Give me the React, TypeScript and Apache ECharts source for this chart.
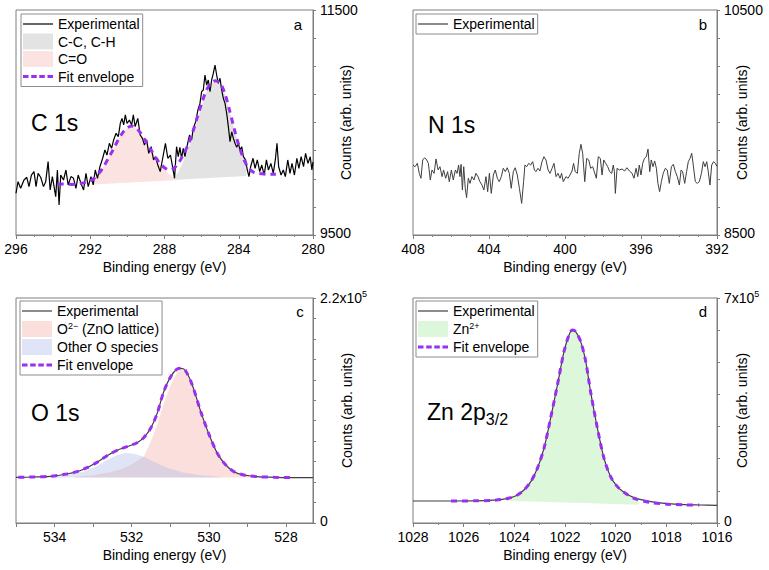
import React, { useEffect, useRef } from 'react';
import * as echarts from 'echarts';

const FONT = '"Liberation Sans", Arial, Helvetica, sans-serif';
const AXIS_GRAY = '#7f7f7f';
const ENVELOPE = '#9a2ef2';

type P = [number, number];

// ---------------- Panel a: C 1s ----------------
const aXRange: P = [280, 296];
const aYRange: P = [9500, 11500];
const aYLabels = ['9500', '11500'];
const aExperimental: P[] = [
  [296.0, 9871], [295.89, 9974], [295.75, 9915], [295.57, 9989], [295.42, 10013], [295.3, 9930],
  [295.17, 10033], [295.03, 10063], [294.92, 9930], [294.81, 10048], [294.67, 10013], [294.52, 9930],
  [294.4, 9974], [294.27, 10152], [294.16, 9900], [294.04, 10019], [293.95, 9930], [293.86, 9841],
  [293.77, 10078], [293.68, 9767], [293.59, 10033], [293.44, 9989], [293.31, 10078], [293.19, 9945],
  [293.04, 10019], [292.9, 10004], [292.77, 9915], [292.65, 10033], [292.5, 9959], [292.36, 9900],
  [292.23, 10048], [292.11, 9930], [291.96, 10019], [291.84, 9945], [291.73, 10078], [291.61, 10004],
  [291.48, 10107], [291.33, 10182], [291.21, 10256], [291.1, 10211], [290.97, 10315], [290.85, 10270],
  [290.74, 10345], [290.61, 10404], [290.49, 10374], [290.38, 10493], [290.29, 10537], [290.2, 10478],
  [290.11, 10567], [290.02, 10493], [289.89, 10522], [289.77, 10478], [289.68, 10567], [289.58, 10463],
  [289.44, 10537], [289.31, 10389], [289.19, 10359], [289.08, 10300], [288.96, 10345], [288.85, 10226],
  [288.72, 10285], [288.59, 10167], [288.49, 10196], [288.36, 10122], [288.23, 10063], [288.1, 10180],
  [287.95, 10315], [287.82, 10182], [287.68, 10211], [287.55, 10093], [287.46, 10004], [287.35, 10285],
  [287.26, 10196], [287.17, 10279], [287.08, 10182], [286.99, 10270], [286.9, 10196], [286.77, 10300],
  [286.65, 10389], [286.54, 10345], [286.45, 10448], [286.32, 10507], [286.2, 10611], [286.09, 10670],
  [286.0, 10774], [285.91, 10789], [285.82, 10922], [285.73, 10833], [285.64, 10878], [285.55, 10774],
  [285.46, 10878], [285.37, 10937], [285.28, 11011], [285.19, 10922], [285.1, 10848], [285.01, 10893],
  [284.92, 10789], [284.83, 10715], [284.74, 10670], [284.65, 10581], [284.56, 10463], [284.47, 10330],
  [284.38, 10418], [284.29, 10359], [284.2, 10315], [284.11, 10279], [284.02, 10315], [283.93, 10256],
  [283.84, 10285], [283.75, 10196], [283.63, 10167], [283.54, 10078], [283.45, 10019], [283.36, 10107],
  [283.23, 10182], [283.12, 10093], [283.0, 10167], [282.87, 10063], [282.76, 10122], [282.63, 10033],
  [282.51, 10167], [282.4, 10078], [282.27, 10137], [282.14, 10048], [282.03, 10167], [281.94, 10315],
  [281.85, 10107], [281.72, 10033], [281.6, 10078], [281.49, 10019], [281.36, 10167], [281.24, 10048],
  [281.13, 10137], [281.0, 10033], [280.87, 10182], [280.76, 10093], [280.64, 10196], [280.51, 10107],
  [280.4, 10226], [280.27, 10137], [280.15, 10196], [280.06, 10078], [280.0, 10150],
];
const aEnvelope: P[] = [
  [293.75, 9952], [293.5, 9953], [293.0, 9950], [292.5, 9959], [292.0, 9980], [291.75, 10010],
  [291.5, 10054], [291.25, 10116], [291.0, 10190], [290.75, 10264], [290.5, 10344], [290.25, 10410],
  [290.0, 10454], [289.75, 10469], [289.5, 10448], [289.25, 10398], [289.0, 10330], [288.75, 10261],
  [288.5, 10196], [288.25, 10137], [288.0, 10098], [287.75, 10078], [287.5, 10093], [287.25, 10137],
  [287.0, 10211], [286.75, 10294], [286.5, 10404], [286.25, 10537], [286.0, 10670], [285.75, 10783],
  [285.5, 10848], [285.25, 10872], [285.0, 10848], [284.75, 10759], [284.5, 10611], [284.25, 10448],
  [284.0, 10300], [283.75, 10181], [283.5, 10101], [283.25, 10063], [283.0, 10048], [282.5, 10042],
  [282.0, 10040],
];
const aCCTop: P[] = [
  [287.6, 9995], [287.5, 10010], [287.25, 10060], [287.0, 10150], [286.75, 10250], [286.5, 10370],
  [286.25, 10510], [286.0, 10650], [285.75, 10770], [285.5, 10840], [285.25, 10868], [285.0, 10845],
  [284.75, 10757], [284.5, 10610], [284.25, 10447], [284.0, 10300], [283.75, 10180], [283.6, 10125],
];
const aCCBase: P[] = [[283.6, 10025], [287.6, 9988]];
const aCOTop: P[] = [
  [291.8, 9995], [291.5, 10054], [291.25, 10116], [291.0, 10190], [290.75, 10264], [290.5, 10344],
  [290.25, 10410], [290.0, 10454], [289.75, 10469], [289.5, 10448], [289.25, 10398], [289.0, 10330],
  [288.75, 10261], [288.5, 10196], [288.25, 10128], [288.0, 10080], [287.75, 10040], [287.5, 10012],
  [287.25, 9998], [287.0, 9993],
];
const aCOBase: P[] = [[287.0, 9992], [291.8, 9950]];

// ---------------- Panel b: N 1s ----------------
const bXRange: P = [392, 408];
const bYRange: P = [8500, 10500];
const bYLabels = ['8500', '10500'];
const bExperimental: P[] = [
  [408.0, 9122], [407.89, 9107], [407.77, 9137], [407.67, 9048], [407.58, 9004], [407.49, 9167],
  [407.39, 9187], [407.28, 9167], [407.19, 9137], [407.09, 8989], [407.0, 9078], [406.89, 9048],
  [406.79, 9176], [406.68, 9078], [406.58, 9107], [406.47, 9019], [406.39, 9078], [406.28, 9004],
  [406.18, 9063], [406.09, 8974], [405.98, 9078], [405.88, 8989], [405.77, 9078], [405.68, 9048],
  [405.6, 9122], [405.53, 9019], [405.47, 9128], [405.4, 8900], [405.33, 9107], [405.25, 8915],
  [405.18, 8832], [405.09, 9004], [405.0, 8959], [404.9, 9019], [404.79, 8989], [404.69, 9048],
  [404.58, 9019], [404.48, 8974], [404.37, 8944], [404.27, 8900], [404.16, 9019], [404.07, 8885],
  [403.98, 9048], [403.88, 8870], [403.77, 9033], [403.67, 9078], [403.56, 9004], [403.46, 8974],
  [403.35, 9019], [403.25, 9093], [403.14, 9063], [403.04, 9098], [402.93, 9048], [402.83, 8915],
  [402.72, 9063], [402.62, 9098], [402.51, 9033], [402.4, 8915], [402.28, 8781], [402.18, 8974],
  [402.11, 9122], [402.02, 9107], [401.91, 9137], [401.81, 9122], [401.7, 9152], [401.61, 9078],
  [401.53, 9063], [401.42, 9093], [401.32, 9069], [401.21, 9152], [401.11, 9196], [401.0, 9167],
  [400.89, 9078], [400.79, 9048], [400.68, 9093], [400.58, 9137], [400.47, 9019], [400.37, 9048],
  [400.26, 9004], [400.18, 9048], [400.09, 8974], [399.95, 9019], [399.84, 9004], [399.74, 9033],
  [399.63, 9069], [399.55, 9137], [399.46, 9063], [399.35, 9048], [399.25, 9226], [399.16, 9306],
  [399.07, 9226], [398.96, 8974], [398.86, 9181], [398.75, 9167], [398.65, 9093], [398.54, 9107],
  [398.46, 9063], [398.35, 9004], [398.25, 9196], [398.14, 9181], [398.05, 9033], [397.96, 9167],
  [397.86, 9137], [397.75, 9107], [397.65, 9063], [397.54, 9048], [397.46, 9122], [397.4, 9063],
  [397.35, 8870], [397.26, 9093], [397.14, 9078], [397.0, 9087], [396.86, 9069], [396.74, 9098],
  [396.61, 9069], [396.47, 9048], [396.37, 9004], [396.26, 9093], [396.17, 9019], [396.09, 9122],
  [396.0, 9033], [395.91, 9137], [395.82, 9181], [395.72, 9196], [395.63, 9264], [395.54, 9063],
  [395.46, 9167], [395.37, 9107], [395.28, 9158], [395.19, 9093], [395.11, 8959], [395.02, 8885],
  [394.93, 8974], [394.83, 9048], [394.72, 9093], [394.62, 9078], [394.51, 8959], [394.4, 9107],
  [394.3, 9128], [394.19, 9063], [394.09, 9019], [393.98, 8944], [393.89, 9078], [393.81, 9063],
  [393.7, 8959], [393.6, 9063], [393.51, 9152], [393.42, 9181], [393.33, 9226], [393.25, 9122],
  [393.14, 8974], [393.04, 8959], [392.93, 8974], [392.82, 9048], [392.72, 9152], [392.63, 9107],
  [392.54, 9152], [392.46, 9063], [392.37, 8944], [392.28, 9122], [392.18, 9152], [392.09, 9137],
  [392.0, 9110],
];

// ---------------- Panel c: O 1s ----------------
const cXRange: P = [527.3, 535];
const cXTickLabels = [534, 532, 530, 528];
const cXTicks = [535, 534, 533, 532, 531, 530, 529, 528];
const cYRange: P = [0, 220000];
const cYLabels = ['0', '2.2x10^5'];
const cExperimental: P[] = [
  [535.0, 44700], [534.55, 44990], [534.12, 45650], [533.68, 47900], [533.42, 50200], [533.16, 54100],
  [532.9, 59300], [532.64, 65800], [532.38, 71000], [532.12, 74600], [531.86, 78500], [531.69, 83400],
  [531.51, 92500], [531.34, 107200], [531.17, 128400], [530.99, 143100], [530.82, 150600], [530.71, 151200],
  [530.6, 148600], [530.43, 134900], [530.21, 108900], [529.99, 86000], [529.78, 68100], [529.56, 56700],
  [529.35, 50200], [529.09, 46900], [528.74, 45300], [528.3, 44700], [527.87, 44300], [527.3, 44300],
];
const cEnvelope: P[] = [
  [534.94, 44700], [534.55, 44990], [534.12, 45650], [533.68, 47900], [533.42, 50200], [533.16, 54100],
  [532.9, 59300], [532.64, 65800], [532.38, 71100], [532.12, 74700], [531.86, 78500], [531.69, 83400],
  [531.51, 92600], [531.34, 107200], [531.17, 128400], [530.99, 143100], [530.82, 150600], [530.71, 151200],
  [530.6, 148600], [530.43, 134900], [530.21, 108900], [529.99, 86100], [529.78, 68100], [529.56, 56700],
  [529.35, 50200], [529.09, 46900], [528.74, 45300], [528.3, 44700], [527.87, 44400],
];
const cLatticeTop: P[] = [
  [533.5, 45000], [533.0, 46600], [532.55, 49600], [532.2, 53500], [531.95, 58400], [531.69, 64900],
  [531.51, 79500], [531.34, 95800], [531.17, 117000], [530.99, 135000], [530.82, 147300], [530.71, 150600],
  [530.6, 148400], [530.43, 134800], [530.21, 108800], [529.99, 86000], [529.78, 68000], [529.56, 56600],
  [529.35, 50100], [529.09, 46800], [528.74, 45200], [528.3, 44600],
];
const cLatticeBase: P[] = [[528.3, 44500], [533.5, 44500]];
const cOtherTop: P[] = [
  [534.12, 45000], [533.68, 46600], [533.25, 50200], [532.9, 55750], [532.64, 61600], [532.38, 66500],
  [532.16, 68450], [531.95, 67800], [531.69, 64900], [531.43, 60000], [531.08, 54100], [530.65, 49200],
  [530.21, 46600], [529.69, 45000],
];
const cOtherBase: P[] = [[529.69, 44500], [534.12, 44500]];

// ---------------- Panel d: Zn 2p3/2 ----------------
const dXRange: P = [1016, 1028];
const dYRange: P = [0, 700000];
const dYLabels = ['0', '7x10^5'];
const dExperimental: P[] = [
  [1028.0, 68500], [1026.51, 68500], [1025.2, 69500], [1024.54, 72600], [1024.14, 78800], [1023.88, 87100],
  [1023.62, 102700], [1023.35, 128600], [1023.09, 170100], [1022.83, 232300], [1022.57, 325600],
  [1022.3, 429300], [1022.04, 533000], [1021.84, 584900], [1021.71, 600400], [1021.58, 595300],
  [1021.38, 564200], [1021.18, 501900], [1020.99, 408600], [1020.72, 294500], [1020.46, 201200],
  [1020.2, 144200], [1019.93, 113100], [1019.67, 95400], [1019.28, 78800], [1018.62, 66400],
  [1017.96, 60200], [1017.3, 57100], [1016.64, 56000], [1016.0, 55000],
];
const dEnvelope: P[] = [
  [1026.5, 68400], [1025.5, 69000], [1024.9, 70500], [1024.54, 72800], [1024.14, 78800], [1023.88, 87100],
  [1023.62, 102700], [1023.35, 128600], [1023.09, 170100], [1022.83, 232300], [1022.57, 325600],
  [1022.3, 429300], [1022.04, 533000], [1021.84, 584900], [1021.71, 600400], [1021.58, 595300],
  [1021.38, 564200], [1021.18, 501900], [1020.99, 408600], [1020.72, 294500], [1020.46, 201200],
  [1020.2, 144200], [1019.93, 113100], [1019.67, 95400], [1019.28, 77000], [1018.62, 64000],
  [1017.96, 58500], [1017.3, 56500], [1016.7, 56000],
];
const dZnTop: P[] = [
  [1024.3, 71000], [1024.14, 78800], [1023.88, 87100], [1023.62, 102700], [1023.35, 128600], [1023.09, 170100],
  [1022.83, 232300], [1022.57, 325600], [1022.3, 429300], [1022.04, 533000], [1021.84, 584900],
  [1021.71, 600400], [1021.58, 595300], [1021.38, 564200], [1021.18, 501900], [1020.99, 408600],
  [1020.72, 294500], [1020.46, 201200], [1020.2, 144200], [1019.93, 113100], [1019.67, 95400],
  [1019.4, 82000], [1019.1, 74000],
];
const dZnBase: P[] = [[1019.1, 56500], [1024.3, 69000]];

// ---------------- helpers ----------------
const LINE_ICON = 'path://M0,0H30V1.2H0Z';
const DASH_ICON = 'path://M0,0H5.5V3H0Z M8.2,0H13.7V3H8.2Z M16.3,0H21.8V3H16.3Z M24.5,0H30V3H24.5Z';

const richSup = {
  sup: { fontSize: 9, fontFamily: FONT, verticalAlign: 'top', lineHeight: 9, color: '#000' },
  b: { fontSize: 14, fontFamily: FONT, lineHeight: 17, color: '#000' },
  lo: { fontSize: 14, fontFamily: FONT, lineHeight: 11, padding: [0, 0, 4, 0], color: '#000' },
};

function richLabel(s: string, low = false): string {
  if (s.includes('^')) {
    const [base, exp] = s.split('^');
    return `{b|${base}}{sup|${exp}}`;
  }
  return low ? `{lo|${s}}` : s;
}

function lineSeries(name: string, data: P[], color: string, width: number, idx: number,
  dashed = false, smooth: number | boolean = false) {
  return {
    type: 'line', name, data, xAxisIndex: idx, yAxisIndex: idx, symbol: 'none', showSymbol: false,
    smooth, clip: true, silent: true, z: dashed ? 5 : 4,
    itemStyle: { color },
    lineStyle: { color, width, type: dashed ? [6, 5] : 'solid', cap: 'butt' },
  };
}

function bandSeries(name: string, top: P[], base: P[], color: string, idx: number) {
  const pts = top.concat(base);
  return {
    type: 'custom', name, xAxisIndex: idx, yAxisIndex: idx, coordinateSystem: 'cartesian2d',
    itemStyle: { color }, data: [pts[0]], clip: true, silent: true, z: 2,
    renderItem: (_params: any, api: any) => ({
      type: 'polygon',
      shape: { points: pts.map((p) => api.coord(p)) },
      style: { fill: color, stroke: null },
    }),
  };
}

function xAxis(idx: number, range: P, opts: any) {
  return {
    type: 'value', gridIndex: idx, min: range[0], max: range[1], inverse: true, position: 'bottom',
    axisLine: { show: true, onZero: false, lineStyle: { color: AXIS_GRAY, width: 1 } },
    axisTick: { show: true, inside: false, length: 4, lineStyle: { color: AXIS_GRAY }, ...(opts.tick || {}) },
    minorTick: { show: !!opts.minor, splitNumber: opts.minor || 2, length: 2, lineStyle: { color: AXIS_GRAY } },
    splitLine: { show: false }, minorSplitLine: { show: false },
    axisLabel: {
      color: '#000', fontSize: 14, fontFamily: FONT, margin: 7,
      formatter: (v: number) => String(v), ...(opts.label || {}),
    },
    interval: opts.interval,
    name: 'Binding energy (eV)', nameLocation: 'middle', nameGap: 25, nameMoveOverlap: false,
    nameTextStyle: { color: '#000', fontSize: 14, fontFamily: FONT },
  };
}

function yAxis(idx: number, range: P, interval: number, labels: string[], nameGap: number) {
  return {
    type: 'value', gridIndex: idx, position: 'right', min: range[0], max: range[1], interval,
    axisLine: { show: true, onZero: false, lineStyle: { color: AXIS_GRAY, width: 1 } },
    axisTick: { show: true, inside: false, length: 3, lineStyle: { color: AXIS_GRAY } },
    splitLine: { show: false },
    axisLabel: {
      color: '#000', fontSize: 14, fontFamily: FONT, margin: 7, lineHeight: 11, rich: richSup,
      formatter: (v: number) => (v === range[0] ? richLabel(labels[0], true) : v === range[1] ? richLabel(labels[1]) : ''),
    },
    name: 'Counts (arb. units)', nameLocation: 'middle', nameRotate: 90, nameGap, nameMoveOverlap: false,
    nameTextStyle: { color: '#000', fontSize: 14, fontFamily: FONT },
  };
}

const legendRich: Record<string, string> = {
  'O2− (ZnO lattice)': 'O{sup|2−} (ZnO lattice)',
  'Zn2+': 'Zn{sup|2+}',
};

function legend(names: { name: string; icon: string }[], left: number, top: number, gap: number) {
  return {
    orient: 'vertical', left, top, itemWidth: 30, itemHeight: 16, itemGap: gap,
    padding: [2, 3, 2, 2], borderColor: '#8c8c8c', borderWidth: 1, backgroundColor: '#ffffff',
    selectedMode: false, symbolKeepAspect: true,
    textStyle: { fontSize: 14, fontFamily: FONT, color: '#000', lineHeight: 16, rich: richSup },
    formatter: (n: string) => {
      const plain = n.slice(2);
      return legendRich[plain] || plain;
    },
    data: names.map((d) => ({ name: d.name, icon: d.icon })),
  };
}

const App: React.FC = () => {
  const ref = useRef<HTMLDivElement>(null);

  useEffect(() => {
    document.body.style.margin = '0';
    if (!ref.current) return;
    const chart = echarts.init(ref.current, undefined, { renderer: 'svg' });

    const gridBase = { show: true, borderColor: AXIS_GRAY, borderWidth: 1, backgroundColor: 'transparent', containLabel: false };
    const expGray = '#3f3f3f';

    const option: any = {
      animation: false,
      backgroundColor: '#ffffff',
      grid: [
        { ...gridBase, left: 16, top: 10, width: 297, height: 225 },
        { ...gridBase, left: 413, top: 10, width: 304, height: 225 },
        { ...gridBase, left: 16, top: 298, width: 297, height: 225 },
        { ...gridBase, left: 413, top: 298, width: 304, height: 225 },
      ],
      xAxis: [
        xAxis(0, aXRange, { interval: 4, minor: 4 }),
        xAxis(1, bXRange, { interval: 4, minor: 4 }),
        xAxis(2, cXRange, { tick: { customValues: cXTicks }, label: { customValues: cXTickLabels } }),
        xAxis(3, dXRange, { interval: 2, minor: 2 }),
      ],
      yAxis: [
        yAxis(0, aYRange, 250, aYLabels, 26),
        yAxis(1, bYRange, 250, bYLabels, 18),
        yAxis(2, cYRange, 20000, cYLabels, 27),
        yAxis(3, dYRange, 100000, dYLabels, 18),
      ],
      legend: [
        legend([
          { name: 'a:Experimental', icon: LINE_ICON }, { name: 'a:C-C, C-H', icon: 'rect' },
          { name: 'a:C=O', icon: 'rect' }, { name: 'a:Fit envelope', icon: DASH_ICON },
        ], 21, 14, 1.5),
        legend([{ name: 'b:Experimental', icon: LINE_ICON }], 416, 14, 1.5),
        legend([
          { name: 'c:Experimental', icon: LINE_ICON }, { name: 'c:O2− (ZnO lattice)', icon: 'rect' },
          { name: 'c:Other O species', icon: 'rect' }, { name: 'c:Fit envelope', icon: DASH_ICON },
        ], 20, 301, 2),
        legend([
          { name: 'd:Experimental', icon: LINE_ICON }, { name: 'd:Zn2+', icon: 'rect' },
          { name: 'd:Fit envelope', icon: DASH_ICON },
        ], 416, 301, 2),
      ],
      series: [
        bandSeries('a:C-C, C-H', aCCTop, aCCBase, '#e3e3e3', 0),
        bandSeries('a:C=O', aCOTop, aCOBase, '#fbe3e1', 0),
        lineSeries('a:Experimental', aExperimental, '#000000', 1.2, 0),
        lineSeries('a:Fit envelope', aEnvelope, ENVELOPE, 3, 0, true, 0.3),

        lineSeries('b:Experimental', bExperimental, expGray, 1, 1),

        bandSeries('c:O2− (ZnO lattice)', cLatticeTop, cLatticeBase, 'rgba(245,178,172,0.42)', 2),
        bandSeries('c:Other O species', cOtherTop, cOtherBase, 'rgba(176,188,232,0.40)', 2),
        lineSeries('c:Experimental', cExperimental, expGray, 1.2, 2, false, 0.3),
        lineSeries('c:Fit envelope', cEnvelope, ENVELOPE, 3, 2, true, 0.3),

        bandSeries('d:Zn2+', dZnTop, dZnBase, '#ddf7da', 3),
        lineSeries('d:Experimental', dExperimental, expGray, 1.2, 3, false, 0.3),
        lineSeries('d:Fit envelope', dEnvelope, ENVELOPE, 3, 3, true, 0.3),
      ],
      graphic: [
        { type: 'text', x: 298, y: 24, style: { text: 'a', fontSize: 15, fontFamily: FONT, fill: '#000', align: 'center', verticalAlign: 'middle' } },
        { type: 'text', x: 703, y: 24, style: { text: 'b', fontSize: 15, fontFamily: FONT, fill: '#000', align: 'center', verticalAlign: 'middle' } },
        { type: 'text', x: 300, y: 311, style: { text: 'c', fontSize: 15, fontFamily: FONT, fill: '#000', align: 'center', verticalAlign: 'middle' } },
        { type: 'text', x: 703, y: 311, style: { text: 'd', fontSize: 15, fontFamily: FONT, fill: '#000', align: 'center', verticalAlign: 'middle' } },
        { type: 'text', x: 31, y: 123, style: { text: 'C 1s', fontSize: 23, fontFamily: FONT, fill: '#000', align: 'left', verticalAlign: 'middle' } },
        { type: 'text', x: 428, y: 125, style: { text: 'N 1s', fontSize: 23, fontFamily: FONT, fill: '#000', align: 'left', verticalAlign: 'middle' } },
        { type: 'text', x: 31, y: 413, style: { text: 'O 1s', fontSize: 23, fontFamily: FONT, fill: '#000', align: 'left', verticalAlign: 'middle' } },
        {
          type: 'text', x: 427, y: 412,
          style: {
            text: '{m|Zn 2p}{s|3/2}', align: 'left', verticalAlign: 'middle', fill: '#000',
            rich: {
              m: { fontSize: 23, fontFamily: FONT, lineHeight: 30, fill: '#000', color: '#000' },
              s: { fontSize: 16, fontFamily: FONT, lineHeight: 16, verticalAlign: 'bottom', fill: '#000', color: '#000' },
            },
          },
        },
      ],
    };

    chart.setOption(option);
    return () => chart.dispose();
  }, []);

  return <div ref={ref} style={{ width: 769, height: 570 }} />;
};

export default App;
